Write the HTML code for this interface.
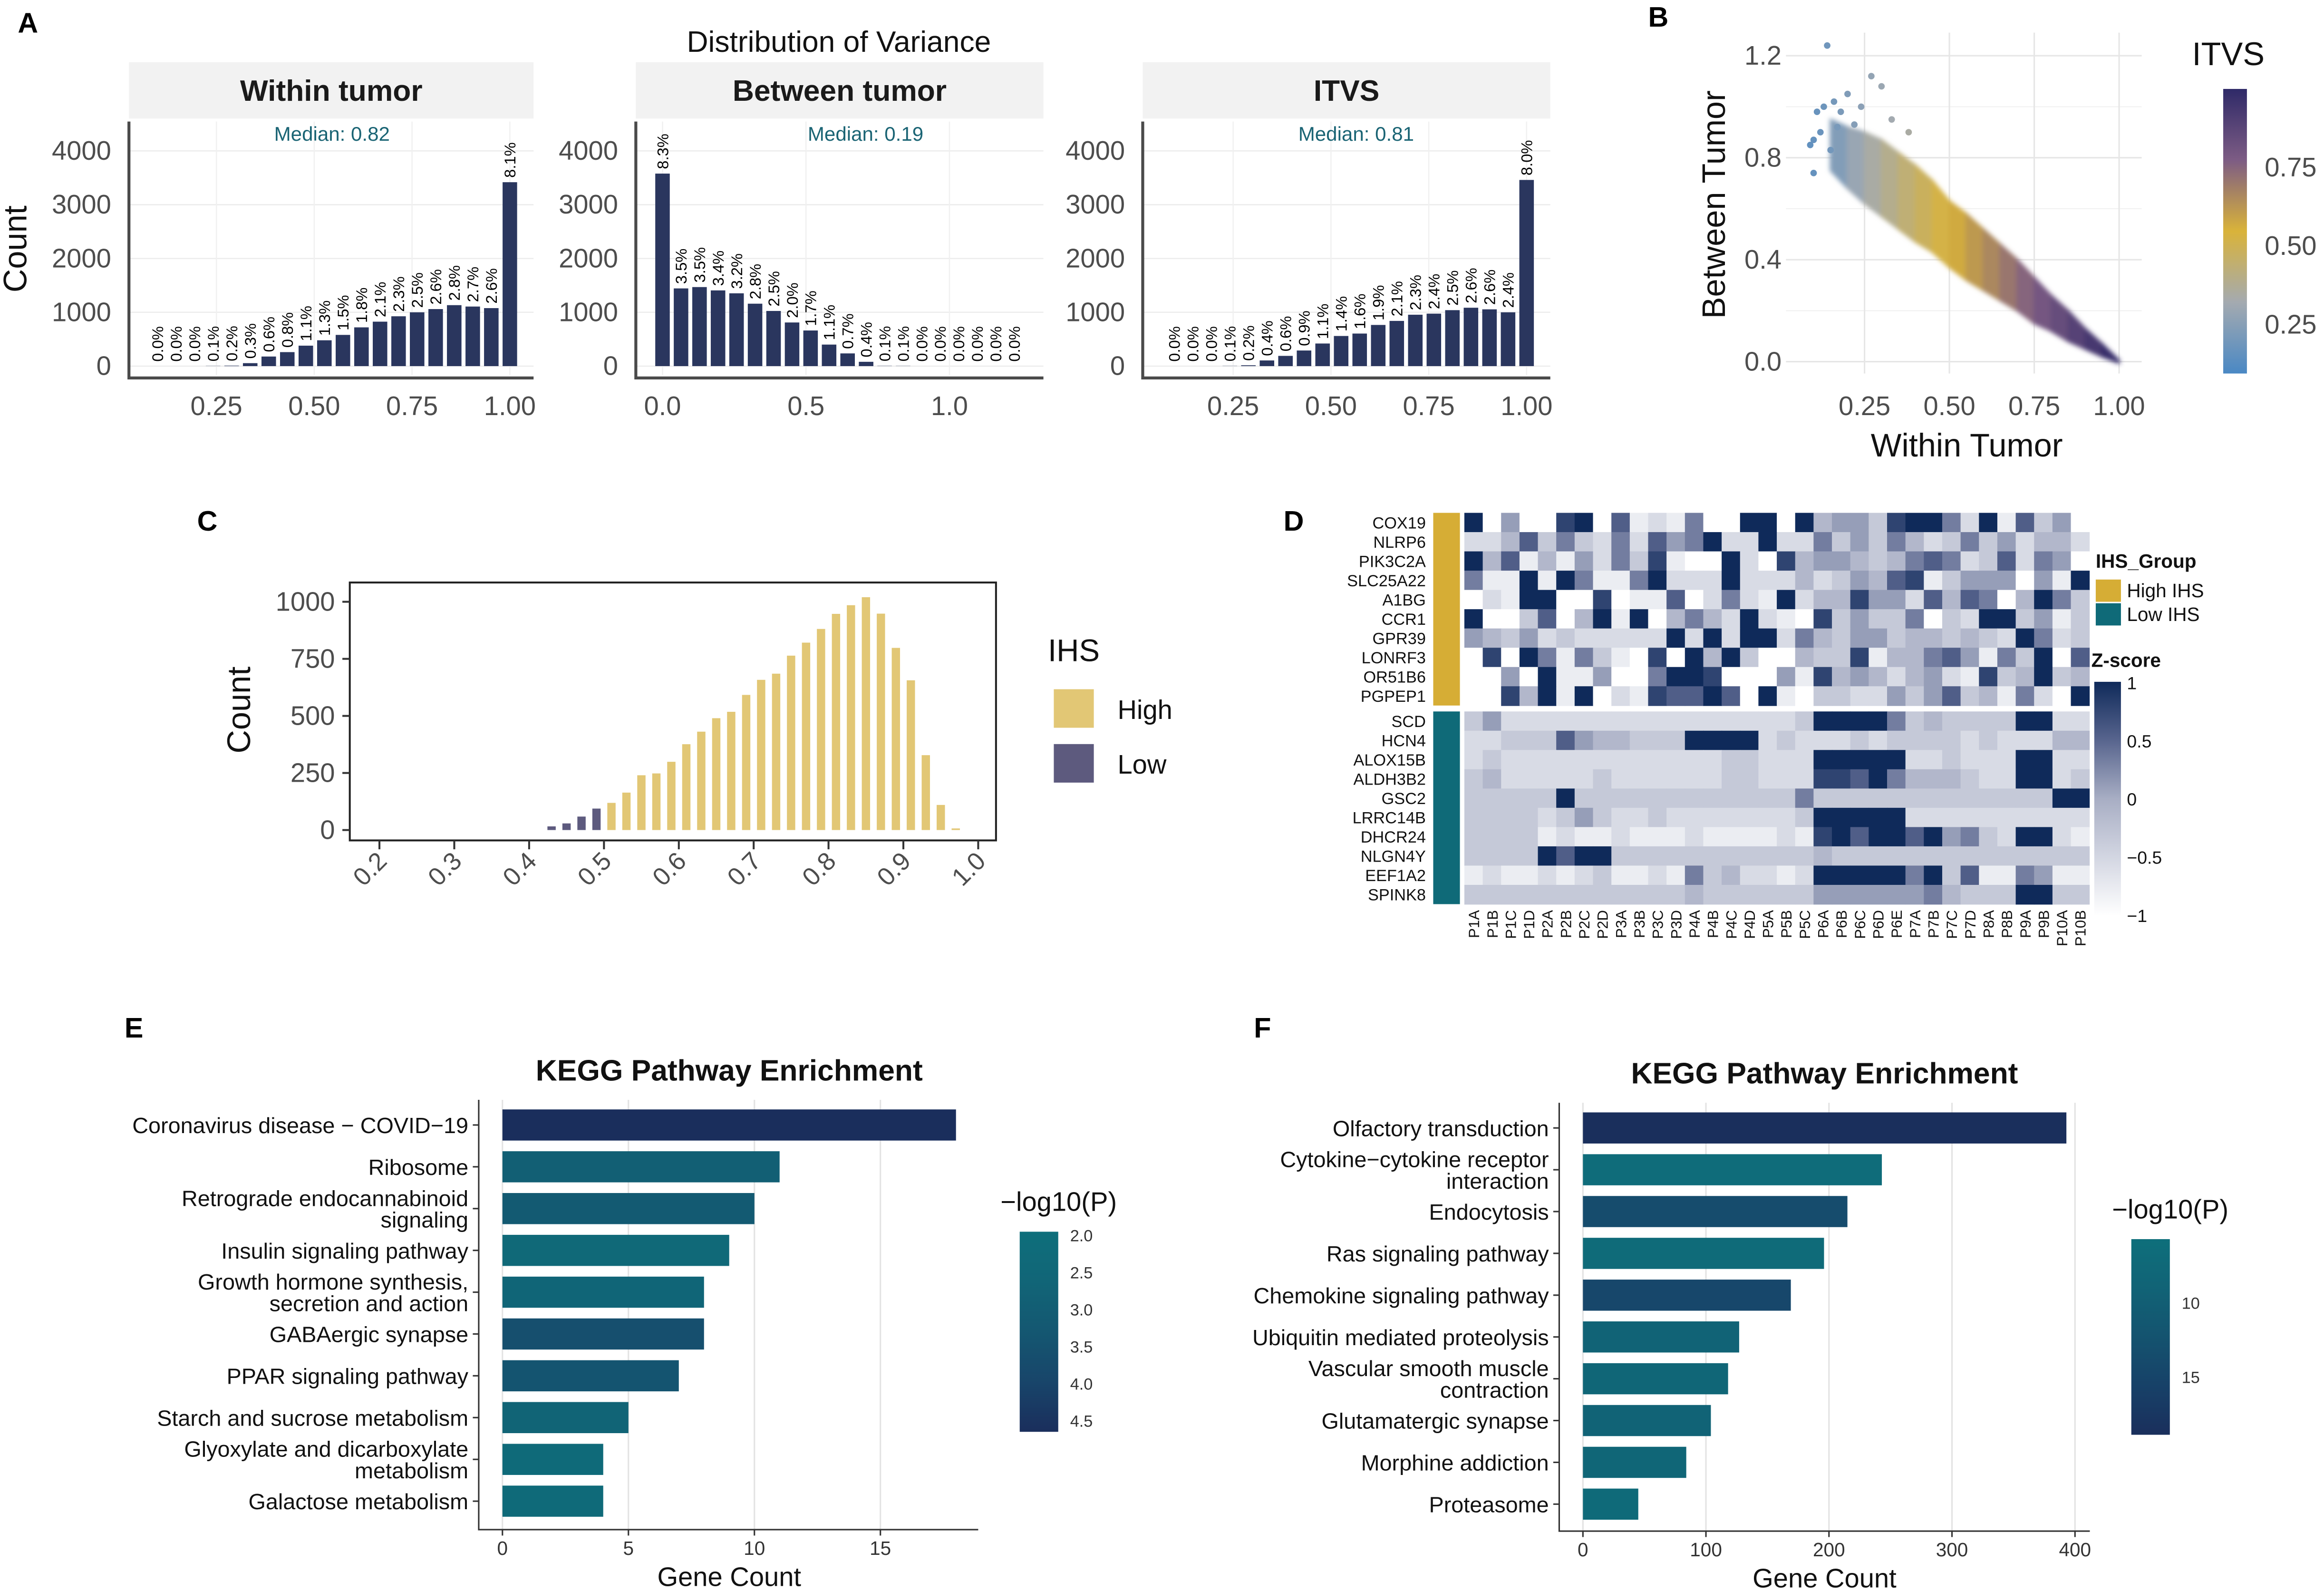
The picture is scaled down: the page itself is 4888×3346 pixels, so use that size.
<!DOCTYPE html>
<html><head><meta charset="utf-8"><style>
html,body{margin:0;padding:0;background:#fff;}
svg{display:block;font-family:"Liberation Sans",Arial,sans-serif;}
</style></head><body>
<svg id="fig" width="4888" height="3346" viewBox="0 0 1568 1073.4" preserveAspectRatio="none" xmlns="http://www.w3.org/2000/svg"></svg>
<script>
// ---------- Panel A data ----------
const withinCounts=[0,0,0,3,8,55,178,260,380,480,580,720,826,926,1000,1060,1133,1107,1078,3418];
const withinLabels=["0.0%","0.0%","0.0%","0.1%","0.2%","0.3%","0.6%","0.8%","1.1%","1.3%","1.5%","1.8%","2.1%","2.3%","2.5%","2.6%","2.8%","2.7%","2.6%","8.1%"];
const betweenCounts=[3578,1444,1469,1407,1353,1160,1025,811,662,400,236,80,4,3,0,0,0,0,0,0];
const betweenLabels=["8.3%","3.5%","3.5%","3.4%","3.2%","2.8%","2.5%","2.0%","1.7%","1.1%","0.7%","0.4%","0.1%","0.1%","0.0%","0.0%","0.0%","0.0%","0.0%","0.0%"];
const itvsCounts=[0,0,0,3,15,105,190,290,420,560,605,765,840,955,975,1040,1085,1055,1000,3460];
const itvsLabels=["0.0%","0.0%","0.0%","0.1%","0.2%","0.4%","0.6%","0.9%","1.1%","1.4%","1.6%","1.9%","2.1%","2.3%","2.4%","2.5%","2.6%","2.6%","2.4%","8.0%"];
const medians=["Median: 0.82","Median: 0.19","Median: 0.81"];
const yTicksA=[0,1000,2000,3000,4000];
// ---------- Panel B data ----------
const bandWithin=[0.15,0.2,0.25,0.3,0.35,0.4,0.45,0.5,0.55,0.6,0.65,0.7,0.75,0.8,0.85,0.9,0.95,1.0];
const bandCenter=[0.85,0.8,0.76,0.72,0.67,0.62,0.57,0.5,0.45,0.4,0.35,0.3,0.24,0.19,0.14,0.09,0.045,0.0];
const bandHalf=[0.1,0.12,0.14,0.15,0.15,0.15,0.14,0.13,0.13,0.12,0.11,0.1,0.09,0.07,0.06,0.04,0.025,0.005];
const outW=[0.14,0.27,0.30,0.09,0.10,0.11,0.13,0.16,0.18,0.12,0.20,0.24,0.33,0.38,0.15,0.10,0.17,0.22];
const outB=[1.24,1.12,1.08,0.85,0.74,0.98,1.00,1.02,0.98,0.90,1.05,1.00,0.95,0.90,0.83,0.87,0.92,0.93];
const bXTicks=[0.25,0.5,0.75,1.0];
const bYTicks=[0,0.4,0.8,1.2];
// ---------- Panel C data ----------
const ihsBins=[0.43,0.45,0.47,0.49,0.51,0.53,0.55,0.57,0.59,0.61,0.63,0.65,0.67,0.69,0.71,0.73,0.75,0.77,0.79,0.81,0.83,0.85,0.87,0.89,0.91,0.93,0.95,0.97];
const ihsCounts=[16,29,59,94,119,164,240,248,299,376,431,490,518,592,658,685,764,821,881,947,985,1020,948,798,656,328,110,7];
const ihsGroup=["Low","Low","Low","Low","High","High","High","High","High","High","High","High","High","High","High","High","High","High","High","High","High","High","High","High","High","High","High","High"];
const cXTicks=[0.2,0.3,0.4,0.5,0.6,0.7,0.8,0.9,1.0];
const cYTicks=[0,250,500,750,1000];
// ---------- Panel D data ----------
const geneRows=["COX19","NLRP6","PIK3C2A","SLC25A22","A1BG","CCR1","GPR39","LONRF3","OR51B6","PGPEP1","SCD","HCN4","ALOX15B","ALDH3B2","GSC2","LRRC14B","DHCR24","NLGN4Y","EEF1A2","SPINK8"];
const sampleCols=["P1A","P1B","P1C","P1D","P2A","P2B","P2C","P2D","P3A","P3B","P3C","P3D","P4A","P4B","P4C","P4D","P5A","P5B","P5C","P6A","P6B","P6C","P6D","P6E","P7A","P7B","P7C","P7D","P8A","P8B","P9A","P9B","P10A","P10B"];
const zLevels=[
"9050089071216009909455389962917350",
"2247363262756922922635364236352442",
"9471415263810092084554346762372650",
"6119196116922292224235478135550519",
"0219900801170262192448552747604963",
"9003704919046429210835336032993513",
"5435232222292929926435534434329623",
"0809616310809493004338144675163907",
"0050911500699800051845424521834934",
"0084919021877970910332253573416209",
"3522222222222222223999963433339922",
"2233375443339999232223233332322244",
"2322222222222233222999992232229922",
"3422222322222233222887964443229923",
"3333393333333333336333333333333399",
"3333235322322222223999992222222222",
"3333121121112111121897997956329921",
"3333979933333333333433333333333333",
"1211212311216342212999996937116511",
"3333333333334333333555555643339933"];
const zTicks=[1,0.5,0,-0.5,-1];
// ---------- Panel E data ----------
const eTerms=[["Coronavirus disease − COVID−19"],["Ribosome"],["Retrograde endocannabinoid","signaling"],["Insulin signaling pathway"],["Growth hormone synthesis,","secretion and action"],["GABAergic synapse"],["PPAR signaling pathway"],["Starch and sucrose metabolism"],["Glyoxylate and dicarboxylate","metabolism"],["Galactose metabolism"]];
const eCounts=[18,11,10,9,8,8,7,5,4,4];
const eLogP=[4.6,3.0,3.2,2.4,2.6,3.6,3.4,2.7,2.3,2.3];
const eXTicks=[0,5,10,15];
const eCTicks=[2.0,2.5,3.0,3.5,4.0,4.5];
// ---------- Panel F data ----------
const fTerms=[["Olfactory transduction"],["Cytokine−cytokine receptor","interaction"],["Endocytosis"],["Ras signaling pathway"],["Chemokine signaling pathway"],["Ubiquitin mediated proteolysis"],["Vascular smooth muscle","contraction"],["Glutamatergic synapse"],["Morphine addiction"],["Proteasome"]];
const fCounts=[393,243,215,196,169,127,118,104,84,45];
const fLogP=[18.9,6.5,13.5,6.8,14.5,9.0,8.0,9.0,8.0,7.0];
const fXTicks=[0,100,200,300,400];
const fCTicks=[10,15];

const NS="http://www.w3.org/2000/svg";
const svg=document.getElementById("fig");
function mk(tag,attrs,parent){const e=document.createElementNS(NS,tag);for(const k in attrs)e.setAttribute(k,attrs[k]);(parent||svg).appendChild(e);return e;}
function txt(s,x,y,size,opts,parent){opts=opts||{};const a={x:x,y:y,"font-size":size,fill:opts.fill||"#000"};if(opts.anchor)a["text-anchor"]=opts.anchor;if(opts.weight)a["font-weight"]=opts.weight;if(opts.rot!==undefined)a.transform="rotate("+opts.rot+" "+x+" "+y+")";if(opts.base)a["dominant-baseline"]=opts.base;const t=mk("text",a,parent);t.textContent=s;return t;}
function hex(c){return [parseInt(c.slice(1,3),16),parseInt(c.slice(3,5),16),parseInt(c.slice(5,7),16)];}
function interp(stops,v){if(v<=stops[0][0])return stops[0][1];for(let i=1;i<stops.length;i++){if(v<=stops[i][0]){const t=(v-stops[i-1][0])/(stops[i][0]-stops[i-1][0]);const a=hex(stops[i-1][1]),b=hex(stops[i][1]);return "rgb("+a.map((x,k)=>Math.round(x+(b[k]-x)*t)).join(",")+")";}}return stops[stops.length-1][1];}
const defs=mk("defs",{});

// ---------- letters ----------
[["A",12,22],["B",1112,18],["C",133,358],["D",866,358],["E",84,700],["F",846,700]].forEach(l=>{
const t=txt(l[0],l[1],l[2],19,{weight:"bold"});


});

// ---------- Panel A ----------
const tA=txt("Distribution of Variance",566,35,20,{anchor:"middle",fill:"#111"});


const cA=txt("Count",12,168,22,{anchor:"middle",rot:-90,base:"middle",fill:"#111"});


const panelsA=[
 {name:"within-tumor",title:"Within tumor",x0:87,x1:360,counts:withinCounts,labels:withinLabels,med:medians[0],medX:224,center:(i)=>1-(19-i)*0.0474,xs:(v)=>146+(v-0.25)*264,ticks:[0.25,0.5,0.75,1.0],tl:["0.25","0.50","0.75","1.00"]},
 {name:"between-tumor",title:"Between tumor",x0:429,x1:704,counts:betweenCounts,labels:betweenLabels,med:medians[1],medX:584,center:(i)=>i*0.0645,xs:(v)=>447+v*193.6,ticks:[0,0.5,1.0],tl:["0.0","0.5","1.0"]},
 {name:"itvs",title:"ITVS",x0:771,x1:1046,counts:itvsCounts,labels:itvsLabels,med:medians[2],medX:915,center:(i)=>1-(19-i)*0.0474,xs:(v)=>832+(v-0.25)*264,ticks:[0.25,0.5,0.75,1.0],tl:["0.25","0.50","0.75","1.00"]}
];
const yA=(c)=>247-c*0.0363;
panelsA.forEach(p=>{
 const g=mk("g",{});
 
 
 const strip=mk("rect",{x:p.x0,y:42,width:p.x1-p.x0,height:38,fill:"#f2f2f2"},g);
 
 
 const st=txt(p.title,(p.x0+p.x1)/2,68,20,{anchor:"middle",weight:"bold",fill:"#1a1a1a"},g);
 
 
 yTicksA.forEach(v=>{
  const gl=mk("line",{x1:p.x0,x2:p.x1,y1:yA(v),y2:yA(v),stroke:"#ececec","stroke-width":0.8},g);
  
  
  const tl=txt(String(v),p.x0-12,yA(v)+6,18,{anchor:"end",fill:"#4d4d4d"},g);
  
  
 });
 p.ticks.forEach((v,k)=>{
  const gl=mk("line",{x1:p.xs(v),x2:p.xs(v),y1:82,y2:253,stroke:"#f0f0f0","stroke-width":0.8},g);
  
  
  const tl=txt(p.tl[k],p.xs(v),280,18,{anchor:"middle",fill:"#4d4d4d"},g);
  
  
 });
 p.counts.forEach((c,i)=>{
  const cx=p.xs(p.center(i));
  const b=mk("rect",{x:cx-4.9,y:yA(c),width:9.8,height:Math.max(0,247-yA(c)),fill:"#2a365e"},g);
  
  
  const lb=txt(p.labels[i],cx+3.8,yA(c)-3,10.5,{rot:-90},g);
  
  
 });
 const ax=mk("path",{d:"M"+p.x0+" 82 V255 H"+p.x1,fill:"none",stroke:"#4a4a4a","stroke-width":2},g);
 
 
 const md=txt(p.med,p.medX,95,13.5,{anchor:"middle",fill:"#1a6474"},g);
 
 
});

// ---------- Panel B ----------
const bx=(w)=>1258+(w-0.25)*229;
const by=(b)=>244-b*172;
const itvsStops=[[0.05,"#4a88c4"],[0.25,"#a4aab0"],[0.5,"#d9b33a"],[0.75,"#7d5c84"],[1.0,"#2f2a68"]];
const gB=mk("g",{});


bYTicks.forEach(v=>{
 const gl=mk("line",{x1:1205,x2:1445,y1:by(v),y2:by(v),stroke:"#e6e6e6","stroke-width":1},gB);
 
 
 if(v<1.2){
 const gm=mk("line",{x1:1205,x2:1445,y1:by(v+0.2),y2:by(v+0.2),stroke:"#f2f2f2","stroke-width":0.7},gB);
 
 
 }
 const tl=txt(v.toFixed(1),1202,by(v)+6,18,{anchor:"end",fill:"#4d4d4d"},gB);
 
 
});
bXTicks.forEach(v=>{
 const gl=mk("line",{x1:bx(v),x2:bx(v),y1:22,y2:252,stroke:"#e6e6e6","stroke-width":1},gB);
 
 
 const tl=txt(v.toFixed(2),bx(v),280,18,{anchor:"middle",fill:"#4d4d4d"},gB);
 
 
});
const blur=mk("filter",{id:"soft",x:"-10%",y:"-10%",width:"120%",height:"120%"},defs);
mk("feGaussianBlur",{stdDeviation:1.6},blur);
const bandG=mk("g",{filter:"url(#soft)"},gB);


for(let i=0;i<bandWithin.length-1;i++){
 const w0=bandWithin[i],w1=bandWithin[i+1];
 const d="M"+bx(w0)+" "+by(bandCenter[i]+bandHalf[i])+" L"+bx(w1)+" "+by(bandCenter[i+1]+bandHalf[i+1])+" L"+bx(w1)+" "+by(bandCenter[i+1]-bandHalf[i+1])+" L"+bx(w0)+" "+by(bandCenter[i]-bandHalf[i])+"Z";
 const col=interp(itvsStops,(w0+w1)/2);
 const s=mk("path",{d:d,fill:col,stroke:col,"stroke-width":1.2},bandG);
 
 
}
outW.forEach((w,i)=>{
 const c=mk("circle",{cx:bx(w),cy:by(outB[i]),r:2.2,fill:interp(itvsStops,w*0.6+0.05)},gB);
 
 
});
const bxT=txt("Within Tumor",1327,308,22,{anchor:"middle",fill:"#111"});


const byT=txt("Between Tumor",1158,138,22,{anchor:"middle",rot:-90,base:"middle",fill:"#111"});


const lg=mk("linearGradient",{id:"itvsg",x1:0,y1:1,x2:0,y2:0},defs);
[[0,"#4a88c4"],[0.25,"#a4aab0"],[0.5,"#d9b33a"],[0.75,"#7d5c84"],[1,"#2f2a68"]].forEach(s=>mk("stop",{offset:s[0],"stop-color":s[1]},lg));
const cbB=mk("rect",{x:1500,y:60,width:16,height:192,fill:"url(#itvsg)"});


const itT=txt("ITVS",1479,44,22,{fill:"#111"});


[[0.75,113],[0.50,166],[0.25,219]].forEach(t=>{
 const l=txt(t[0].toFixed(2),1528,t[1]+6,18,{fill:"#4d4d4d"});
 
 
});

// ---------- Panel C ----------
const cx=(v)=>256+(v-0.2)*505;
const cy=(c)=>560-c*0.154;
const gC=mk("g",{});


ihsBins.forEach((v,i)=>{
 const b=mk("rect",{x:cx(v)-2.8,y:cy(ihsCounts[i]),width:5.6,height:560-cy(ihsCounts[i]),fill:ihsGroup[i]==="High"?"#e2c775":"#5d5a7e"},gC);
 
 
});
const boxC=mk("rect",{x:236,y:393,width:436,height:174,fill:"none",stroke:"#222","stroke-width":1.3},gC);


cYTicks.forEach(v=>{
 const tk=mk("line",{x1:231,x2:236,y1:cy(v),y2:cy(v),stroke:"#333","stroke-width":1.3},gC);
 
 
 const l=txt(String(v),226,cy(v)+6,18,{anchor:"end",fill:"#4d4d4d"},gC);
 
 
});
cXTicks.forEach(v=>{
 const tk=mk("line",{x1:cx(v),x2:cx(v),y1:567,y2:573,stroke:"#333","stroke-width":1.3},gC);
 
 
 const l=txt(v.toFixed(1),cx(v)+6,582,17,{anchor:"end",rot:-45,fill:"#4d4d4d"},gC);
 
 
});
const cyT=txt("Count",163,479,22,{anchor:"middle",rot:-90,base:"middle",fill:"#111"});


const ihsT=txt("IHS",707,446,21,{fill:"#111"});


[["High","#e2c775",465],["Low","#5d5a7e",502]].forEach(e=>{
 const r=mk("rect",{x:711,y:e[2],width:27,height:26,fill:e[1]});
 
 
 const l=txt(e[0],754,e[2]+20,18,{fill:"#111"});
 
 
});

// ---------- Panel D ----------
const zStops=[[-1,"#ffffff"],[-0.5,"#d3d6e2"],[0,"#a8aec4"],[0.5,"#58658e"],[1,"#0f2a5a"]];
const cellW=12.4,cellH=13;
const gD=mk("g",{});


geneRows.forEach((gname,r)=>{
 const yy=(r<10?346+r*cellH:480+(r-10)*cellH);
 zLevels[r].split("").forEach((d,c)=>{
  const z=parseInt(d)/9*2-1;
  const rc=mk("rect",{x:988+c*cellW,y:yy,width:cellW+0.3,height:cellH+0.3,fill:interp(zStops,z)},gD);
  
  
 });
 const l=txt(gname,962,yy+10.5,11,{anchor:"end",fill:"#111"},gD);
 
 
});
const ga1=mk("rect",{x:967,y:346,width:18,height:130,fill:"#d6ad35"},gD);


const ga2=mk("rect",{x:967,y:480,width:18,height:130,fill:"#0f6a78"},gD);


sampleCols.forEach((s,c)=>{
 const l=txt(s,988+c*cellW+cellW/2+3.8,614,10,{anchor:"end",rot:-90,fill:"#111"},gD);
 
 
});
const igT=txt("IHS_Group",1414,383,13,{weight:"bold",fill:"#111"});


[["High IHS","#d6ad35",391],["Low IHS","#0f6a78",407]].forEach(e=>{
 const r=mk("rect",{x:1414,y:e[2],width:17,height:15,fill:e[1]});
 
 
 const l=txt(e[0],1435,e[2]+12,13,{fill:"#111"});
 
 
});
const zT=txt("Z-score",1411,450,13,{weight:"bold",fill:"#111"});


const lgz=mk("linearGradient",{id:"zg",x1:0,y1:1,x2:0,y2:0},defs);
zStops.forEach(s=>mk("stop",{offset:(s[0]+1)/2,"stop-color":s[1]},lgz));
const cbD=mk("rect",{x:1413,y:460,width:18,height:158,fill:"url(#zg)"});


zTicks.forEach(v=>{
 const yy=460+(1-v)/2*157;
 const l=txt(v===0?"0":String(v).replace("-","−"),1435,yy+5,12,{fill:"#111"});
 
 
});

// ---------- Panels E & F ----------
function barPanel(cfg){
 const g=mk("g",{});
 
 
 const xs=(v)=>cfg.x0+v*cfg.k;
 const t=txt("KEGG Pathway Enrichment",cfg.titleX,cfg.titleY,20,{anchor:"middle",weight:"bold",fill:"#111"},g);
 
 
 cfg.ticks.forEach(v=>{
  const gl=mk("line",{x1:xs(v),x2:xs(v),y1:cfg.yTop,y2:cfg.axisY,stroke:"#e3e3e3","stroke-width":1},g);
  
  
  const tk=mk("line",{x1:xs(v),x2:xs(v),y1:cfg.axisY,y2:cfg.axisY+4,stroke:"#333","stroke-width":1},g);
  
  
  const l=txt(String(v),xs(v),cfg.axisY+17,13,{anchor:"middle",fill:"#333"},g);
  
  
 });
 cfg.counts.forEach((c,i)=>{
  const yc=cfg.y0+i*cfg.step;
  const b=mk("rect",{x:xs(0),y:yc-10.5,width:c*cfg.k,height:21,fill:interp(cfg.cstops,cfg.logp[i])},g);
  
  
  const tk=mk("line",{x1:cfg.axisX-4,x2:cfg.axisX,y1:yc,y2:yc,stroke:"#333","stroke-width":1},g);
  
  
  const lines=cfg.terms[i];
  lines.forEach((s,j)=>{
   const yy=yc+5.5+(j-(lines.length-1)/2)*14.5;
   const l=txt(s,cfg.axisX-7,yy,15,{anchor:"end",fill:"#111"},g);
   
   
  });
 });
 const ax=mk("path",{d:"M"+cfg.axisX+" "+cfg.yTop+" V"+cfg.axisY+" H"+cfg.xEnd,fill:"none",stroke:"#333","stroke-width":1},g);
 
 
 const xt=txt("Gene Count",cfg.titleX,cfg.axisY+38,18,{anchor:"middle",fill:"#111"},g);
 
 
 const gr=mk("linearGradient",{id:cfg.name+"g",x1:0,y1:0,x2:0,y2:1},defs);
 [0,0.25,0.5,0.75,1].forEach(f=>mk("stop",{offset:f,"stop-color":interp(cfg.cstops,cfg.cmin+(cfg.cmax-cfg.cmin)*f)},gr));
 const cb=mk("rect",{x:cfg.cbX,y:cfg.cbY,width:26,height:cfg.cbH,fill:"url(#"+cfg.name+"g)"},g);
 
 
 const ct=txt("−log10(P)",cfg.cbX-13,cfg.cbY-14,18,{fill:"#111"},g);
 
 
 cfg.cticks.forEach(v=>{
  const yy=cfg.cbY+(v-cfg.cmin)/(cfg.cmax-cfg.cmin)*cfg.cbH;
  const l=txt(cfg.cfmt(v),cfg.cbX+34,yy+4,11,{fill:"#333"},g);
  
  
 });
}
barPanel({name:"kegg-panel-e",x0:339,k:17,ticks:eXTicks,counts:eCounts,logp:eLogP,terms:eTerms,y0:759,step:28.2,axisX:323,axisY:1032,yTop:742,xEnd:660,titleX:492,titleY:729,
 cstops:[[2.0,"#0e6f7b"],[3.0,"#125f74"],[4.0,"#18446a"],[4.6,"#1a2e5c"]],cmin:1.95,cmax:4.65,cbX:688,cbY:831,cbH:135,cticks:eCTicks,cfmt:(v)=>v.toFixed(1)});
barPanel({name:"kegg-panel-f",x0:1068,k:0.83,ticks:fXTicks,counts:fCounts,logp:fLogP,terms:fTerms,y0:761,step:28.2,axisX:1052,axisY:1033,yTop:744,xEnd:1410,titleX:1231,titleY:731,
 cstops:[[5.7,"#0e6f7b"],[10,"#125f74"],[15,"#17446a"],[19,"#1a2e5c"]],cmin:5.7,cmax:18.9,cbX:1438,cbY:836,cbH:132,cticks:fCTicks,cfmt:(v)=>String(v)});
</script>
</body></html>
